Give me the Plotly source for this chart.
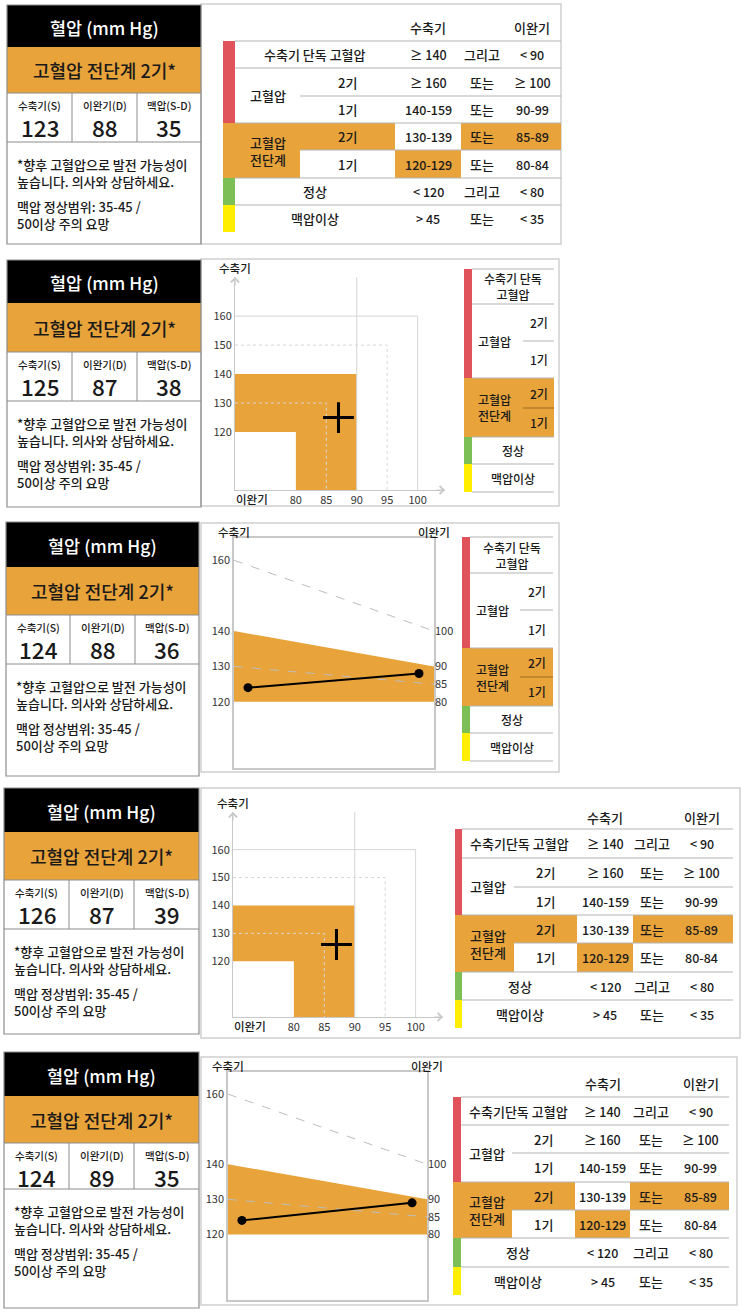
import plotly.graph_objects as go

W, H = 748, 1312
FONT = "Noto Sans CJK KR"
ORANGE = "#E8A33B"
TEXT = "#1a1a1a"
BOX_LINE = "#8c8c8c"
FRAME_LINE = "#cfcfcf"
ROW_LINE = "#b3b3b3"
AXIS_LINE = "#c8c8c8"
GUIDE = "#d6d6d6"
LEVEL_COLORS = {"high": "#E0535A", "pre": ORANGE, "normal": "#7CBF56", "pulse": "#FFEE00"}

# ---- readings, one per panel ----
systolic = [123, 125, 124, 126, 124]
diastolic = [88, 87, 88, 87, 89]
pulse_pressure = [35, 38, 36, 39, 35]

header_text = "혈압 (mm Hg)"
status_text = "고혈압 전단계 2기*"
value_names = ["수축기(S)", "이완기(D)", "맥압(S-D)"]
note_blocks = ["*향후 고혈압으로 발전 가능성이<br>높습니다. 의사와 상담하세요.",
               "맥압 정상범위: 35-45 /<br>50이상 주의 요망"]

# ---- classification table ----
row_group = ["수축기 단독 고혈압", "고혈압", "고혈압", "고혈압<br>전단계", "고혈압<br>전단계", "정상", "맥압이상"]
row_step = ["", "2기", "1기", "2기", "1기", "", ""]
row_sys = ["≥ 140", "≥ 160", "140-159", "130-139", "120-129", "< 120", "> 45"]
row_join = ["그리고", "또는", "또는", "또는", "또는", "그리고", "또는"]
row_dia = ["< 90", "≥ 100", "90-99", "85-89", "80-84", "< 80", "< 35"]
row_level = ["high", "high", "high", "pre", "pre", "normal", "pulse"]
hit_step = [0, 0, 0, 1, 0, 0, 0]
hit_sys = [0, 0, 0, 0, 1, 0, 0]
hit_dia = [0, 0, 0, 1, 0, 0, 0]
current_level = "pre"
iso_label = ["수축기 단독 고혈압", "수축기 단독<br>고혈압", "수축기 단독<br>고혈압",
             "수축기단독 고혈압", "수축기단독 고혈압"]

# ---- chart guides ----
zone_sys = [120, 140]
zone_dia = [80, 90]
box_sys_ticks = [120, 130, 140, 150, 160]
box_dia_ticks = [80, 85, 90, 95, 100]
box_guide_sys = [160, 150, 130]
box_guide_dia = [100, 95, 85]
box_guide_dash = ["solid", "dot", "dot"]
par_sys_ticks = [120, 130, 140, 160]
par_dia_ticks = [80, 85, 90, 100]
par_guide_sys = [160, 130]
par_guide_dia = [100, 85]

# ---- layout geometry (pixels) ----
LEFT_X = [(7, 72, 137, 201), (7, 72, 137, 201), (6, 70, 135, 199), (4, 69, 134, 199), (4, 69, 134, 199)]
LEFT_Y = [(5, 47, 93, 142, 244), (260, 303, 352, 401, 507), (522, 567, 615, 664, 776),
          (788, 832, 880, 929, 1034), (1052, 1096, 1143, 1189, 1308)]
NOTE_OFFSETS = [30.5, 73]
FRAMES = [(201, 4, 561, 244), (201, 259, 559, 506), (201, 523, 559, 772),
          (201, 788, 740, 1038), (201, 1057, 737, 1305)]

BOX_DIA_MIN, BOX_DIA_MAX = 70, 104.5
BOX_SYS_MIN, BOX_SYS_MAX = 100, 173.5
PAR_SYS_MIN, PAR_SYS_MAX = 101.3, 166.3
DIA_SHIFT = 40
PAR_LEFT, PAR_RIGHT = 0.07, 0.925

fig = go.Figure()
shapes, annos = [], []


def rect(x0, y0, x1, y1, fill="rgba(0,0,0,0)", line=None, width=1):
    shapes.append(dict(type="rect", xref="x", yref="y", x0=x0, y0=y0, x1=x1, y1=y1,
                       fillcolor=fill,
                       line=dict(color=line or "rgba(0,0,0,0)", width=width if line else 0)))


def seg(x0, y0, x1, y1, color, width=1):
    shapes.append(dict(type="line", xref="x", yref="y", x0=x0, y0=y0, x1=x1, y1=y1,
                       line=dict(color=color, width=width)))


def label(x, y, s, size=12.5, color=TEXT, anchor="center", xref="x", align="center"):
    annos.append(dict(xref=xref, yref="y", x=x, y=y, text=s, showarrow=False,
                      xanchor=anchor, yanchor="middle", borderpad=0, align=align,
                      font=dict(family=FONT, size=size, color=color, weight=500)))


def left_box(i):
    x0, c1, c2, x1 = LEFT_X[i]
    top, head, status, nums, bottom = LEFT_Y[i]
    rect(x0, top, x1, head, fill="black")
    rect(x0, head, x1, status, fill=ORANGE)
    rect(x0, top, x1, bottom, line=BOX_LINE, width=1.2)
    seg(x0, status, x1, status, BOX_LINE)
    seg(x0, nums, x1, nums, BOX_LINE)
    seg(c1, status, c1, nums, BOX_LINE)
    seg(c2, status, c2, nums, BOX_LINE)
    mid = (x0 + x1) / 2
    label(mid, (top + head) / 2 + 1, header_text, 17.5, "white")
    label(mid, (head + status) / 2, status_text, 18)
    vals = [systolic[i], diastolic[i], pulse_pressure[i]]
    for a, b, name, v in zip([x0, c1, c2], [c1, c2, x1], value_names, vals):
        label((a + b) / 2, status + 12, name, 10.5)
        label((a + b) / 2, status + 34, str(v), 22.5)
    for off, block in zip(NOTE_OFFSETS, note_blocks):
        label(x0 + 9, nums + off, block, 13, anchor="left", align="left")


def group_span(r):
    end = r
    while end + 1 < len(row_group) and row_group[end + 1] == row_group[r]:
        end += 1
    return end


def is_continuation(r):
    return r > 0 and row_group[r] == row_group[r - 1]


def full_table(i, rows, cols, head_y):
    b0, b1, g1, s0, s1, j1, end = cols
    label((s0 + s1) / 2, head_y, "수축기", 13)
    label((j1 + end) / 2, head_y, "이완기", 13)
    for r, lvl in enumerate(row_level):
        ya, yb = rows[r], rows[r + 1]
        rect(b0, ya, b1, yb, fill=LEVEL_COLORS[lvl])
        if lvl == current_level:
            rect(b0, ya, g1, yb, fill=ORANGE)
        if hit_step[r]:
            rect(g1, ya, s0, yb, fill=ORANGE)
        if hit_sys[r]:
            rect(s0, ya, s1, yb, fill=ORANGE)
        if hit_dia[r]:
            rect(s1, ya, end, yb, fill=ORANGE)
    for r in range(len(row_level)):
        seg(g1 if is_continuation(r) else b1, rows[r], end, rows[r], ROW_LINE)
    for r in range(len(row_level)):
        ym = (rows[r] + rows[r + 1]) / 2
        if row_step[r]:
            label((g1 + s0) / 2, ym, row_step[r], 13)
            if not is_continuation(r):
                label((b1 + g1) / 2, (rows[r] + rows[group_span(r) + 1]) / 2, row_group[r], 13)
        else:
            label((b1 + s0) / 2, ym, iso_label[i] if r == 0 else row_group[r], 13)
        label((s0 + s1) / 2, ym, row_sys[r])
        label((s1 + j1) / 2, ym, row_join[r], 13)
        label((j1 + end) / 2, ym, row_dia[r])


def legend(i, rows, cols):
    b0, b1, g1, end = cols
    for r, lvl in enumerate(row_level):
        ya, yb = rows[r], rows[r + 1]
        rect(b0, ya, b1, yb, fill=LEVEL_COLORS[lvl])
        if lvl == current_level:
            rect(b0, ya, end, yb, fill=ORANGE)
    for r in range(len(row_level) + 1):
        cont = r < len(row_level) and is_continuation(r)
        inside = cont and row_level[r] == current_level
        seg(g1 if cont else b1, rows[r], end, rows[r], "rgba(60,40,0,0.45)" if inside else ROW_LINE)
    for r in range(len(row_level)):
        ym = (rows[r] + rows[r + 1]) / 2
        if row_step[r]:
            label((g1 + end) / 2, ym, row_step[r], 12)
            if not is_continuation(r):
                label((b1 + g1) / 2 - 3, (rows[r] + rows[group_span(r) + 1]) / 2, row_group[r], 12)
        else:
            label((b1 + end) / 2, ym, iso_label[i] if r == 0 else row_group[r], 12)


tick_font = dict(family=FONT, size=11, color="#333333")
axis_common = dict(showgrid=False, zeroline=False, ticks="", tickfont=tick_font, fixedrange=True)


def box_chart(k, i, box):
    x0, y0, x1, y1 = box
    xa, ya = f"x{k}", f"y{k}"
    fig.update_layout({
        f"xaxis{k}": dict(domain=[x0 / W, x1 / W], range=[BOX_DIA_MIN, BOX_DIA_MAX], anchor=ya,
                          tickvals=box_dia_ticks, showline=True, linecolor=AXIS_LINE, **axis_common),
        f"yaxis{k}": dict(domain=[1 - y1 / H, 1 - y0 / H], range=[BOX_SYS_MIN, BOX_SYS_MAX], anchor=xa,
                          tickvals=box_sys_ticks, showline=True, linecolor=AXIS_LINE, **axis_common),
    })
    lo_s, hi_s = zone_sys
    lo_d, hi_d = zone_dia
    fig.add_trace(go.Scatter(
        x=[BOX_DIA_MIN, BOX_DIA_MIN, hi_d, hi_d, lo_d, lo_d, BOX_DIA_MIN],
        y=[lo_s, hi_s, hi_s, BOX_SYS_MIN, BOX_SYS_MIN, lo_s, lo_s],
        fill="toself", fillcolor=ORANGE, mode="lines", line=dict(width=0),
        xaxis=xa, yaxis=ya, hoverinfo="skip"))
    fig.add_trace(go.Scatter(x=[hi_d, hi_d], y=[BOX_SYS_MIN, BOX_SYS_MAX], mode="lines",
                             line=dict(color=GUIDE, width=1), xaxis=xa, yaxis=ya, hoverinfo="skip"))
    for s, d, dash in zip(box_guide_sys, box_guide_dia, box_guide_dash):
        fig.add_trace(go.Scatter(x=[BOX_DIA_MIN, d, d], y=[s, s, BOX_SYS_MIN], mode="lines",
                                 line=dict(color=GUIDE, width=1, dash=dash),
                                 xaxis=xa, yaxis=ya, hoverinfo="skip"))
    fig.add_trace(go.Scatter(x=[diastolic[i]], y=[systolic[i]], mode="markers",
                             marker=dict(symbol="cross-thin", size=22, line=dict(width=3, color="black")),
                             xaxis=xa, yaxis=ya))
    for x, y, ax, ay in [(BOX_DIA_MAX, BOX_SYS_MIN, -10, 0), (BOX_DIA_MIN, BOX_SYS_MAX, 0, 10)]:
        annos.append(dict(xref=xa, yref=ya, x=x, y=y, ax=ax, ay=ay, text="", showarrow=True,
                          arrowhead=4, arrowsize=1.6, arrowwidth=1, arrowcolor=AXIS_LINE, standoff=0))
    label(x0, y0 - 9, "수축기", 11.5)
    label(BOX_DIA_MIN, y1 + 8.5, "이완기", 11.5, anchor="left", xref=xa)


def par_chart(k, k2, i, frame):
    x0, y0, x1, y1 = frame
    xa, ya, ya2 = f"x{k}", f"y{k}", f"y{k2}"
    fig.update_layout({
        f"xaxis{k}": dict(domain=[x0 / W, x1 / W], range=[0, 1], anchor=ya, showline=True, mirror=True,
                          linecolor=AXIS_LINE, linewidth=1.5, showticklabels=False, **axis_common),
        f"yaxis{k}": dict(domain=[1 - y1 / H, 1 - y0 / H], range=[PAR_SYS_MIN, PAR_SYS_MAX], anchor=xa,
                          showline=True, mirror=True, linecolor=AXIS_LINE, linewidth=1.5,
                          tickvals=par_sys_ticks, **axis_common),
        f"yaxis{k2}": dict(overlaying=ya, side="right", anchor=xa,
                           range=[PAR_SYS_MIN - DIA_SHIFT, PAR_SYS_MAX - DIA_SHIFT],
                           tickvals=par_dia_ticks, showline=False, **axis_common),
    })
    lo_s, hi_s = zone_sys
    lo_d, hi_d = zone_dia
    fig.add_trace(go.Scatter(x=[0, 0, 1, 1, 0],
                             y=[lo_s, hi_s, hi_d + DIA_SHIFT, lo_d + DIA_SHIFT, lo_s],
                             fill="toself", fillcolor=ORANGE, mode="lines", line=dict(width=0),
                             xaxis=xa, yaxis=ya, hoverinfo="skip"))
    for s, d in zip(par_guide_sys, par_guide_dia):
        fig.add_trace(go.Scatter(x=[0, 1], y=[s, d + DIA_SHIFT], mode="lines",
                                 line=dict(color="#bdbdbd", width=1, dash="dash"),
                                 xaxis=xa, yaxis=ya, hoverinfo="skip"))
    fig.add_trace(go.Scatter(x=[PAR_LEFT, PAR_RIGHT], y=[systolic[i], diastolic[i] + DIA_SHIFT],
                             mode="lines", line=dict(color="black", width=2), xaxis=xa, yaxis=ya))
    dot = dict(color="black", size=9)
    fig.add_trace(go.Scatter(x=[PAR_LEFT], y=[systolic[i]], mode="markers", marker=dot,
                             xaxis=xa, yaxis=ya))
    fig.add_trace(go.Scatter(x=[PAR_RIGHT], y=[diastolic[i]], mode="markers", marker=dot,
                             xaxis=xa, yaxis=ya2))
    label(x0, y0 - 6.5, "수축기", 11.5)
    label(x1, y0 - 6.5, "이완기", 11.5)


# right frames first so the left boxes sit on top of the shared edge
for i in range(5):
    x0, y0, x1, y1 = FRAMES[i]
    rect(x0, y0, x1, y1, line=FRAME_LINE, width=1.5)
for i in range(5):
    left_box(i)

full_table(0, [41, 68, 96, 123, 150, 178, 205, 232], (223, 235, 300, 395, 461, 503, 561), 27)
full_table(3, [829, 858, 887, 915, 943, 972, 1000, 1028], (455, 462, 514, 577, 633, 670, 733), 817)
full_table(4, [1097, 1125, 1153, 1182, 1210, 1238, 1267, 1295], (453, 461, 512, 575, 630, 672, 729), 1083)
legend(1, [269, 304, 341, 378, 408, 437, 464, 492], (464, 472, 523, 554))
legend(2, [537, 573, 610, 648, 677, 706, 733, 761], (462, 470, 520, 553))

# canvas axes in pixel units for the table layout
fig.add_trace(go.Scatter(x=[], y=[], xaxis="x", yaxis="y"))
box_chart(2, 1, (235, 277, 445, 490))
par_chart(3, 4, 2, (234, 538, 434, 768))
box_chart(5, 3, (233, 812, 443, 1017))
par_chart(6, 7, 4, (228, 1072, 427, 1300))

fig.update_layout(
    width=W, height=H, margin=dict(l=0, r=0, t=0, b=0),
    paper_bgcolor="white", plot_bgcolor="rgba(0,0,0,0)", showlegend=False,
    font=dict(family=FONT, color=TEXT),
    xaxis=dict(domain=[0, 1], range=[0, W], visible=False, fixedrange=True),
    yaxis=dict(domain=[0, 1], range=[H, 0], visible=False, fixedrange=True),
    shapes=shapes, annotations=annos,
)

# the page's default body margin would shift the whole picture by 8px
fig.write_html("out.html", config={"displayModeBar": False},
               post_script="document.body.style.margin='0';")
